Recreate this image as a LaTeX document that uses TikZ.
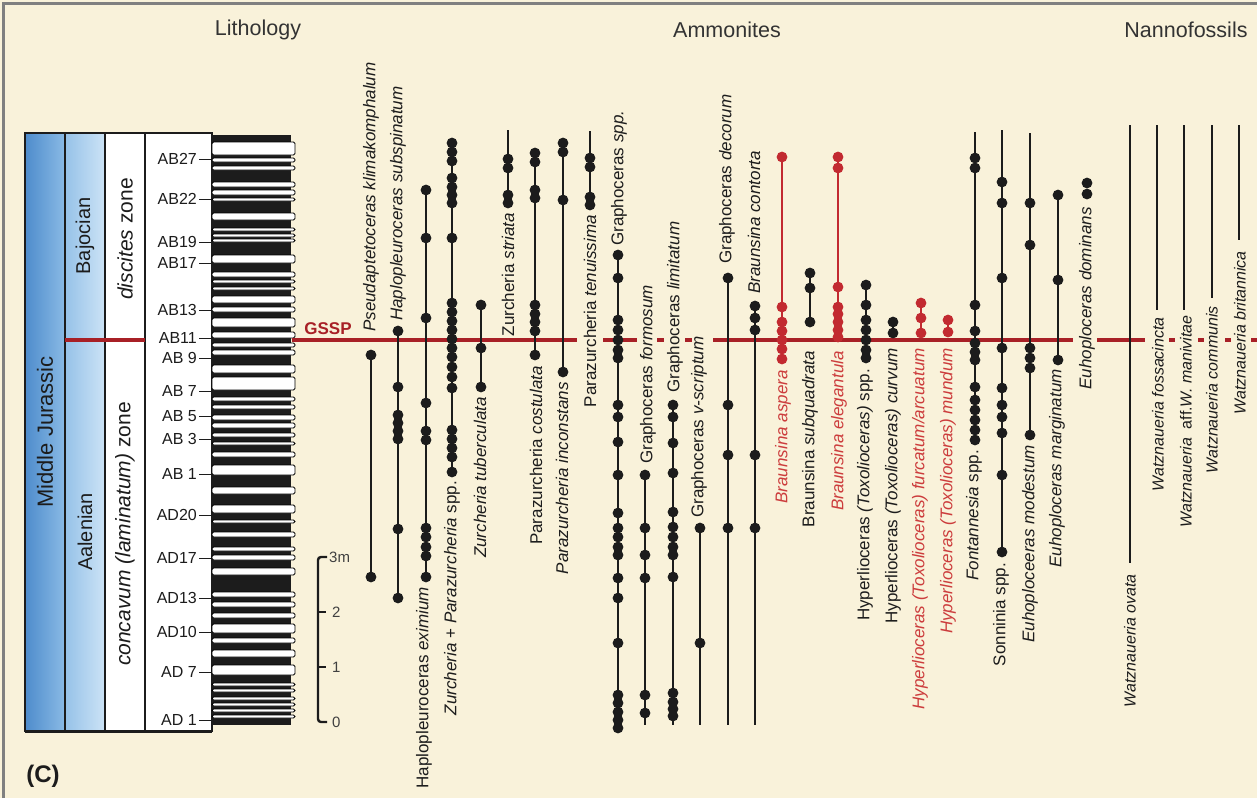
\documentclass[tikz,border=0pt]{standalone}
\usepackage{fontspec}
\setmainfont{Liberation Sans}
\usetikzlibrary{positioning}

\definecolor{paper}{RGB}{249,242,218}
\definecolor{ink}{RGB}{28,28,28}
\definecolor{gssp}{RGB}{168,32,38}
\definecolor{redtax}{RGB}{194,42,48}
\definecolor{redtxt}{RGB}{204,60,60}
\definecolor{blueA}{RGB}{78,140,204}
\definecolor{blueB}{RGB}{138,186,229}
\definecolor{blueC}{RGB}{150,194,232}
\definecolor{blueD}{RGB}{204,227,246}

\newcommand{\taxfont}{\fontsize{17}{20}\selectfont}
\newcommand{\nanfont}{\fontsize{16}{19}\selectfont}
\newcommand{\headfont}{\fontsize{21.5}{25}\selectfont}
\newcommand{\colfont}{\fontsize{21}{25}\selectfont}
\newcommand{\bedfont}{\fontsize{16}{19}\selectfont}
\newcommand{\sclfont}{\fontsize{15}{18}\selectfont}

\begin{document}
\begin{tikzpicture}[x=1pt,y=-1pt,
  taxline/.style={line width=1.9pt, draw=ink},
  redline/.style={line width=1.9pt, draw=redtax},
  nanline/.style={line width=2.8pt, draw=ink},
  gsspline/.style={line width=4pt, draw=gssp},
  labup/.style={rotate=90, anchor=west, inner sep=1pt, font=\taxfont, text=ink},
  labdown/.style={rotate=90, anchor=east, inner sep=1pt, font=\taxfont, text=ink},
  headtxt/.style={font=\headfont, text=black!80},
  coltxt/.style={rotate=90, font=\colfont, text=ink},
  bedtxt/.style={anchor=east, inner sep=1pt, font=\bedfont, text=ink},
  scltxt/.style={anchor=west, inner sep=1pt, font=\sclfont, text=black!75}]

\useasboundingbox (0,0) rectangle (1257,798);
\fill[paper] (0,0) rectangle (1257,798);
\draw[line width=3pt, black!50] (3.5,798) -- (3.5,3.5) -- (1257,3.5);

% 見出し
\node[headtxt] (lith) at (258,30) {Lithology};
\node[headtxt] (ammo) at (727,30) {Ammonites};
\node[headtxt] (nann) at (1186,30) {Nannofossils};

% 年代区分
\shade[left color=blueA, right color=blueB] (25,133) rectangle (65,731);
\shade[left color=blueC, right color=blueD] (65,133) rectangle (105,731);
\fill[white] (105,133) rectangle (212,731);
\draw[line width=1.8pt, ink] (25,133) rectangle (212,731);
\foreach \x in {65,105,145}
  \draw[line width=1.8pt, ink] (\x,133) -- (\x,731);
\draw[line width=3pt, ink] (25,731) -- (212,731);
\draw[gsspline] (65,340) -- (145,340);

\node[coltxt, font=\fontsize{22}{26}\selectfont] (mj) at (45,432) {Middle Jurassic};
\node[coltxt, font=\fontsize{20}{24}\selectfont] (baj) at (85,236) {Bajocian};
\node[coltxt, font=\fontsize{20}{24}\selectfont] (aal) at (85,532) {Aalenian};
\node[coltxt] (disc) at (125,239) {\textit{discites} zone};
\node[coltxt] (conc) at (125,534) {\textit{concavum (laminatum)} zone};

% 層準
\foreach \y/\t in {159/AB27,199/AB22,242/AB19,263/AB17,310/AB13,338/AB11,
    358/AB 9,391/AB 7,416/AB 5,439/AB 3,474/AB 1,515/AD20,558/AD17,
    598/AD13,632/AD10,672/AD 7,720/AD 1} {
  \draw[line width=1pt, ink] (199,\y) -- (212,\y);
  \node[bedtxt] (bed\y) at (198,\y) {\t};
}

% 岩相
\fill[ink] (212,135) rectangle (291,725);
\foreach \a/\b in {142/155,158/162,166/170,182/187,190/195,198/201,213/220,
    228/231,234/237,239/242,255/263,272/277,280/283,287/290,296/303,307/312,
    318/327,332/338,343/347,350/355,365/373,377/390,397/401,405/409,415/420,
    423/428,433/437,442/445,452/457,465/475,487/494,505/513,520/523,532/537,
    547/551,555/560,568/575,592/597,602/607,613/618,624/633,638/643,650/657,
    665/675,683/686,689/692,697/700,703/706,709/712,715/718}
  \draw[fill=white, line width=0.8pt, rounded corners=1.5pt] (212,\a) rectangle (295,\b);

% スケール
\draw[line width=2.4pt, ink, rounded corners=3pt] (327,557) -- (318,557) -- (318,722) -- (327,722);
\foreach \y in {612,667}
  \draw[line width=2.4pt, ink] (318,\y) -- (326,\y);
\node[scltxt] (s3) at (328,557) {3m};
\node[scltxt] (s2) at (331,612) {2};
\node[scltxt] (s1) at (331,667) {1};
\node[scltxt] (s0) at (331,722) {0};

% GSSP
\draw[gsspline] (292,340) -- (577,340);
\draw[gsspline] (603,340) -- (637,340);
\draw[gsspline] (657,340) -- (664,340);
\draw[gsspline] (685,340) -- (692,340);
\draw[gsspline] (713,340) -- (1073,340);
\draw[gsspline] (1097,340) -- (1145,340);
\foreach \x in {1172,1201,1228,1254}
  \draw[gsspline] (\x-3,340) -- (\x+3,340);
\node[font=\fontsize{17}{20}\selectfont\bfseries, text=gssp] (gsspl) at (328,329) {GSSP};

% アンモナイト
\draw[taxline] (371,355) -- (371,577);
\foreach \y in {355,577} \fill[ink] (371,\y) circle (5.4pt);
\node[labup] (pk) at (371,333) {\textit{Pseudaptetoceras klimakomphalum}};

\draw[taxline] (398,331) -- (398,598);
\foreach \y in {331,387,415,423,431,439,529,598} \fill[ink] (398,\y) circle (5.4pt);
\node[labup] (hs) at (398,322) {\textit{Haplopleuroceras subspinatum}};

\draw[taxline] (426,190) -- (426,577);
\foreach \y in {190,238,318,403,431,440,528,537,547,556,577} \fill[ink] (426,\y) circle (5.4pt);
\node[labdown] (he) at (424,586) {Haplopleuroceras \textit{eximium}};

\draw[taxline] (452,143) -- (452,472);
\foreach \y in {143,152,161,178,187,195,203,238,303,312,321,330,339,348,357,367,377,388,430,439,448,457,472}
  \fill[ink] (452,\y) circle (5.4pt);
\node[labdown] (zp) at (452,480) {\textit{Zurcheria} + \textit{Parazurcheria} spp.};

\draw[taxline] (481,305) -- (481,387);
\foreach \y in {305,348,387} \fill[ink] (481,\y) circle (5.4pt);
\node[labdown] (zt) at (480,396) {\textit{Zurcheria tuberculata}};

\draw[taxline] (508,130) -- (508,203);
\foreach \y in {159,168,195,203} \fill[ink] (508,\y) circle (5.4pt);
\node[labdown] (zs) at (508,212) {Zurcheria \textit{striata}};

\draw[taxline] (535,153) -- (535,355);
\foreach \y in {153,162,190,198,305,314,322,331,355} \fill[ink] (535,\y) circle (5.4pt);
\node[labdown] (pc) at (536,365) {Parazurcheria \textit{costulata}};

\draw[taxline] (563,143) -- (563,372);
\foreach \y in {143,152,200,372} \fill[ink] (563,\y) circle (5.4pt);
\node[labdown] (pi) at (562,381) {\textit{Parazurcheria inconstans}};

\draw[taxline] (590,131) -- (590,205);
\foreach \y in {158,167,197,205} \fill[ink] (590,\y) circle (5.4pt);
\node[labdown] (pt) at (590,214) {Parazurcheria \textit{tenuissima}};

\draw[taxline] (618,255) -- (618,728);
\foreach \y in {255,278,320,330,340,350,358,405,417,442,475,513,528,537,547,555,578,598,643,695,703,712,720,728}
  \fill[ink] (618,\y) circle (5.4pt);
\node[labup] (gs) at (619,247) {Graphoceras \textit{spp.}};

\draw[taxline] (645,475) -- (645,725);
\foreach \y in {475,528,555,578,695,713} \fill[ink] (645,\y) circle (5.4pt);
\node[labup] (gf) at (648,465) {Graphoceras \textit{formosum}};

\draw[taxline] (673,405) -- (673,725);
\foreach \y in {405,417,443,473,512,527,537,547,555,577,693,702,709,716} \fill[ink] (673,\y) circle (5.4pt);
\node[labup] (gl) at (675,394) {Graphoceras \textit{limitatum}};

\draw[taxline] (700,528) -- (700,725);
\foreach \y in {528,643} \fill[ink] (700,\y) circle (5.4pt);
\node[labup] (gv) at (699,519) {Graphoceras \textit{v-scriptum}};

\draw[taxline] (728,278) -- (728,725);
\foreach \y in {278,405,455,528} \fill[ink] (728,\y) circle (5.4pt);
\node[labup] (gd) at (727,265) {Graphoceras \textit{decorum}};

\draw[taxline] (755,306) -- (755,725);
\foreach \y in {306,318,330,455,528} \fill[ink] (755,\y) circle (5.4pt);
\node[labup] (bc) at (754,295) {\textit{Braunsina contorta}};

\draw[redline] (782,157) -- (782,359);
\foreach \y in {157,307,322,331,340,349,359} \fill[redtax] (782,\y) circle (5.4pt);
\node[labdown, text=redtxt] (ba) at (783,369) {\textit{Braunsina aspera}};

\draw[taxline] (810,273) -- (810,322);
\foreach \y in {273,288,322} \fill[ink] (810,\y) circle (5.4pt);
\node[labdown] (bs) at (810,350) {Braunsina \textit{subquadrata}};

\draw[redline] (838,157) -- (838,337);
\foreach \y in {157,168,287,307,314,322,330,337} \fill[redtax] (838,\y) circle (5.4pt);
\node[labdown, text=redtxt] (be) at (839,350) {\textit{Braunsina elegantula}};

\draw[taxline] (866,285) -- (866,358);
\foreach \y in {285,305,320,330,340,350,358} \fill[ink] (866,\y) circle (5.4pt);
\node[labdown] (hts) at (865,368) {Hyperlioceras \textit{(Toxolioceras)} spp.};

\draw[taxline] (893,322) -- (893,333);
\foreach \y in {322,333} \fill[ink] (893,\y) circle (5.4pt);
\node[labdown] (htc) at (893,347) {Hyperlioceras \textit{(Toxolioceras) curvum}};

\draw[redline] (921,303) -- (921,333);
\foreach \y in {303,318,333} \fill[redtax] (921,\y) circle (5.4pt);
\node[labdown, text=redtxt] (htf) at (920,347) {\textit{Hyperlioceras (Toxolioceras) furcatum/arcuatum}};

\draw[redline] (948,320) -- (948,332);
\foreach \y in {320,332} \fill[redtax] (948,\y) circle (5.4pt);
\node[labdown, text=redtxt] (htm) at (948,347) {\textit{Hyperlioceras (Toxolioceras) mundum}};

\draw[taxline] (975,132) -- (975,440);
\foreach \y in {158,168,305,331,343,352,360,387,400,410,420,430,440} \fill[ink] (975,\y) circle (5.4pt);
\node[labdown] (fs) at (974,449) {\textit{Fontannesia} spp.};

\draw[taxline] (1002,130) -- (1002,552);
\foreach \y in {182,203,278,348,388,405,417,433,475,552} \fill[ink] (1002,\y) circle (5.4pt);
\node[labdown] (ss) at (1001,562) {Sonninia spp.};

\draw[taxline] (1030,133) -- (1030,435);
\foreach \y in {203,245,348,358,368,435} \fill[ink] (1030,\y) circle (5.4pt);
\node[labdown] (em) at (1030,444) {\textit{Euhoploceeras modestum}};

\draw[taxline] (1058,195) -- (1058,360);
\foreach \y in {195,280,360} \fill[ink] (1058,\y) circle (5.4pt);
\node[labdown] (ema) at (1057,368) {\textit{Euhoploceras marginatum}};

\foreach \y in {183,194} \fill[ink] (1087,\y) circle (5.4pt);
\node[labdown] (ed) at (1087,206) {\textit{Euhoploceras dominans}};

% ナノ化石
\draw[nanline] (1130,125) -- (1130,563);
\node[labdown, font=\nanfont] (wo) at (1130,573) {\textit{Watznaueria ovata}};
\draw[nanline] (1157,125) -- (1157,310);
\node[labdown, font=\nanfont] (wf) at (1158,316) {\textit{Watznaueria fossacincta}};
\draw[nanline] (1184,125) -- (1184,310);
\node[labdown, font=\nanfont] (wm) at (1186,314) {\textit{Watznaueria}~ aff.\textit{W. manivitae}};
\draw[nanline] (1212,125) -- (1212,298);
\node[labdown, font=\nanfont] (wc) at (1212,305) {\textit{Watznaueria communis}};
\draw[nanline] (1239,125) -- (1239,240);
\node[labdown, font=\nanfont] (wb) at (1240,250) {\textit{Watznaueria britannica}};

\node[font=\fontsize{24}{28}\selectfont\bfseries, text=ink] (panel) at (43,776) {(C)};
\end{tikzpicture}
\end{document}
